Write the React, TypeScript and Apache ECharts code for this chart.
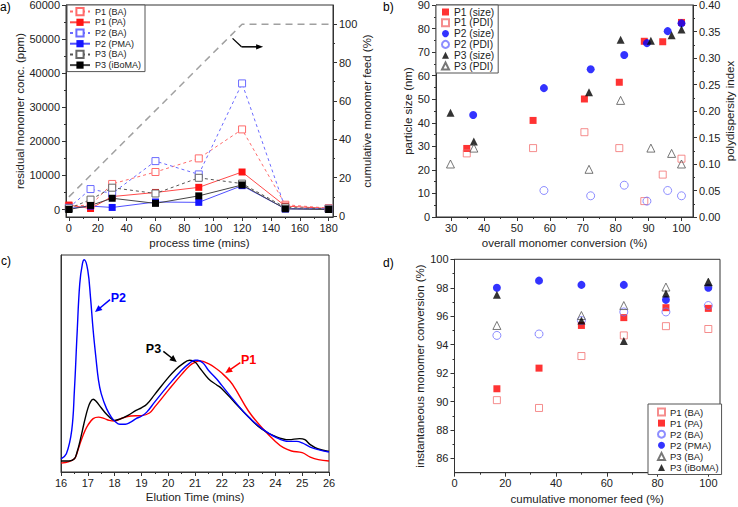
import React, { useEffect, useRef } from "react";
import * as echarts from "echarts";

const FONT = '"Liberation Sans", Arial, Helvetica, sans-serif';

// ---------- panel a ----------
const aTime = [0, 15, 30, 60, 90, 120, 150, 180];
const aP1BA = [1000, 1300, 7500, 11000, 15000, 23500, 1400, 400];
const aP1PA = [1300, 300, 3800, 5000, 6500, 11000, 1000, 300];
const aP2BA = [500, 6000, 4700, 14200, 10300, 37000, 300, 200];
const aP2PMA = [300, 1000, 600, 2200, 2100, 7000, 200, 100];
const aP3BA = [300, 2900, 6400, 4700, 9300, 7600, 600, 200];
const aP3iBoMA = [0, 1200, 3300, 1800, 4000, 7200, 200, 0];
const aFeedTime = [0, 120, 180];
const aFeedPct = [10, 100, 100];
const aXTicks = [0, 20, 40, 60, 80, 100, 120, 140, 160, 180];
const aXMinor = [10, 30, 50, 70, 90, 110, 130, 150, 170];
const aYTicks = [0, 10000, 20000, 30000, 40000, 50000, 60000];
const aYMinor = [5000, 15000, 25000, 35000, 45000, 55000];
const aY2Ticks = [0, 20, 40, 60, 80, 100];
const aY2Minor = [10, 30, 50, 70, 90];

// ---------- panel b ----------
const bP1X = [34.75, 54.9, 70.5, 81.1, 88.7, 94.3, 100];
const bP1Size = [29.1, 41, 50.1, 57.2, 74.6, 74.4, 82.6];
const bP1Pdi = [0.12, 0.13, 0.16, 0.13, 0.03, 0.08, 0.11];
const bP2X = [36.7, 58.2, 72.4, 82.6, 89.5, 95.8, 100];
const bP2Size = [43.3, 54.7, 62.7, 68.8, 73.8, 78.9, 82.2];
const bP2PdiX = [58.2, 72.4, 82.6, 89.5, 95.8, 100];
const bP2Pdi = [0.05, 0.04, 0.06, 0.03, 0.05, 0.04];
const bP3X = [29.8, 36.9, 71.9, 81.5, 90.7, 97, 100];
const bP3Size = [44.3, 32, 53, 75.2, 74.8, 77.2, 79.6];
const bP3Pdi = [0.1, 0.13, 0.09, 0.22, 0.13, 0.12, 0.1];
const bXTicks = [30, 40, 50, 60, 70, 80, 90, 100];
const bXMinor = [35, 45, 55, 65, 75, 85, 95];
const bYTicks = [0, 10, 20, 30, 40, 50, 60, 70, 80, 90];
const bYMinor = [5, 15, 25, 35, 45, 55, 65, 75, 85];
const bY2Ticks = [0, 0.05, 0.1, 0.15, 0.2, 0.25, 0.3, 0.35, 0.4];
const bY2Minor = [0.025, 0.075, 0.125, 0.175, 0.225, 0.275, 0.325, 0.375];

// ---------- panel c ----------
const cP2Time = [16.0, 16.2, 16.4, 16.5, 16.6, 16.7, 16.8, 16.87, 17.0, 17.1, 17.2, 17.3, 17.4, 17.5, 17.7, 17.9, 18.0, 18.2, 18.4, 18.6, 18.8, 19.0, 19.2, 19.5, 20.0, 20.5, 20.8, 21.0, 21.1, 21.3, 21.5, 21.8, 22.0, 22.5, 23.0, 23.5, 24.0, 24.5, 24.8, 25.0, 25.3, 25.6, 26.0];
const cP2Signal = [6.1, 8.4, 19.2, 37.6, 63.7, 86.8, 96.0, 97.8, 92.9, 80.6, 65.3, 53.0, 42.2, 36.1, 29.2, 24.9, 23.5, 22.0, 22.0, 23.0, 24.6, 25.7, 27.6, 32.3, 39.9, 46.9, 50.2, 51.5, 51.5, 50.2, 46.9, 43.0, 39.9, 32.3, 25.3, 20.0, 16.1, 14.1, 14.1, 13.4, 11.5, 10.3, 9.2];
const cP3Time = [16.0, 16.3, 16.5, 16.6, 16.7, 16.8, 16.9, 17.0, 17.1, 17.2, 17.3, 17.5, 17.7, 17.9, 18.0, 18.2, 18.5, 18.8, 19.0, 19.2, 19.5, 20.0, 20.3, 20.5, 20.8, 21.0, 21.2, 21.5, 21.8, 22.0, 22.5, 23.0, 23.5, 24.0, 24.5, 24.9, 25.1, 25.3, 25.6, 26.0];
const cP3Signal = [5.1, 5.1, 6.1, 9.2, 13.8, 19.2, 24.6, 29.2, 32.3, 33.5, 32.7, 29.6, 26.6, 24.3, 23.8, 24.4, 26.1, 28.4, 29.6, 31.2, 35.8, 43.5, 47.5, 49.5, 51.5, 50.7, 47.6, 43.0, 40.2, 38.4, 31.8, 25.3, 19.7, 16.4, 14.9, 15.4, 14.9, 12.6, 10.6, 9.5];
const cP1Time = [16.0, 16.3, 16.5, 16.6, 16.7, 16.8, 16.9, 17.0, 17.2, 17.4, 17.6, 17.8, 18.0, 18.3, 18.6, 19.0, 19.3, 19.5, 20.0, 20.5, 20.8, 21.0, 21.2, 21.5, 21.8, 22.0, 22.3, 22.5, 23.0, 23.5, 24.0, 24.3, 24.6, 25.0, 25.3, 25.6, 26.0];
const cP1Signal = [4.1, 4.8, 6.1, 8.8, 12.7, 16.1, 19.2, 21.5, 24.6, 25.3, 24.7, 23.8, 23.5, 24.9, 25.8, 26.0, 27.2, 30.0, 37.6, 45.0, 49.0, 50.5, 51.2, 49.9, 47.6, 45.6, 41.9, 38.4, 28.0, 20.4, 14.1, 11.2, 9.7, 8.9, 6.9, 5.7, 5.1];
const cXTicks = [16, 17, 18, 19, 20, 21, 22, 23, 24, 25, 26];
const cXMinor = [16.5, 17.5, 18.5, 19.5, 20.5, 21.5, 22.5, 23.5, 24.5, 25.5];

// ---------- panel d ----------
const dFeed = [16.7, 33.3, 50, 66.7, 83.3, 100];
const dP1BA = [90.1, 89.55, 93.2, 94.65, 95.3, 95.1];
const dP1PA = [90.9, 92.35, 95.35, 95.9, 96.6, 96.55];
const dP2BA = [94.65, 94.75, 95.7, 96.3, 96.3, 96.75];
const dP2PMA = [98.0, 98.5, 98.2, 98.2, 97.15, 98.0];
const dP3BA = [95.35, null, 96.05, 96.75, 98.05, 98.4];
const dP3iBoMA = [97.5, null, 95.7, 94.25, 97.6, 98.4];
const dXTicks = [0, 20, 40, 60, 80, 100];
const dXMinor = [10, 30, 50, 70, 90];
const dYTicks = [86, 88, 90, 92, 94, 96, 98, 100];
const dYMinor = [87, 89, 91, 93, 95, 97, 99];

const AXC = "#333";
const TXT = "#222";

function mainAxis(grid: number, position: string, min: number, max: number, ticks: number[], extra: any = {}) {
  return {
    type: "value",
    gridIndex: grid,
    position,
    min,
    max,
    axisLine: { show: true, onZero: false, lineStyle: { color: AXC, width: 1 } },
    axisTick: { show: true, customValues: ticks, length: 4, lineStyle: { color: AXC, width: 1 } },
    axisLabel: { show: true, customValues: ticks, fontSize: 11, color: TXT, fontFamily: FONT, margin: 6, formatter: (v: number) => String(v) },
    splitLine: { show: false },
    nameLocation: "middle",
    nameTextStyle: { fontSize: 11.5, color: TXT, fontFamily: FONT },
    ...extra,
  };
}
function minorAxis(grid: number, position: string, min: number, max: number, ticks: number[]) {
  return {
    type: "value",
    gridIndex: grid,
    position,
    min,
    max,
    axisLine: { show: false, onZero: false },
    axisTick: { show: true, customValues: ticks, length: 2, lineStyle: { color: AXC, width: 1 } },
    axisLabel: { show: false },
    splitLine: { show: false },
  };
}
function xLabel(ticks: number[]) {
  return { customValues: ticks, fontSize: 11, color: TXT, fontFamily: FONT, margin: 5, formatter: (v: number) => String(v) };
}

function pairs(xs: number[], ys: (number | null)[]) {
  const out: any[] = [];
  xs.forEach((x, i) => {
    if (ys[i] !== null && ys[i] !== undefined) out.push([x, ys[i]]);
  });
  return out;
}

function lineSeriesA(name: string, ys: number[], color: string, lineColor: string, open: boolean) {
  return {
    type: "line",
    name,
    xAxisIndex: 0,
    yAxisIndex: 0,
    data: pairs(aTime, ys),
    symbol: "rect",
    symbolSize: 7,
    showAllSymbol: true,
    itemStyle: open ? { color: "#fff", borderColor: color, borderWidth: 1 } : { color, borderColor: color, borderWidth: 0 },
    lineStyle: { color: lineColor, width: 1, type: open ? [3, 3] : "solid" },
    emphasis: { disabled: true },
  };
}

function scatter(name: string, xi: number, yi: number, data: any[], symbol: string, color: string, open: boolean, size = 7) {
  return {
    type: "scatter",
    name,
    xAxisIndex: xi,
    yAxisIndex: yi,
    data,
    symbol,
    symbolSize: size,
    itemStyle: open ? { color: "rgba(255,255,255,0)", borderColor: color, borderWidth: 1 } : { color, borderWidth: 0 },
    emphasis: { disabled: true },
  };
}

function arrow(p1: number[], p2: number[], color: string, head = 7, half = 3.2) {
  const dx = p2[0] - p1[0];
  const dy = p2[1] - p1[1];
  const len = Math.hypot(dx, dy);
  const ux = dx / len;
  const uy = dy / len;
  const bx = p2[0] - ux * head;
  const by = p2[1] - uy * head;
  return [
    { type: "line", silent: true, shape: { x1: p1[0], y1: p1[1], x2: bx + ux, y2: by + uy }, style: { stroke: color, lineWidth: 1.5 } },
    {
      type: "polygon",
      silent: true,
      shape: { points: [[p2[0], p2[1]], [bx - uy * half, by + ux * half], [bx + uy * half, by - ux * half]] },
      style: { fill: color },
    },
  ];
}

export default function App() {
  const ref = useRef<HTMLDivElement>(null);
  useEffect(() => {
    if (!ref.current) return;
    const chart = echarts.init(ref.current, null, { renderer: "svg" });

    const gridBase = { show: true, borderColor: AXC, borderWidth: 1, backgroundColor: "transparent", containLabel: false, outerBoundsMode: "none" };
    const legendText = { fontSize: 9.5, color: TXT, fontFamily: FONT };

    const option: any = {
      animation: false,
      backgroundColor: "#fff",
      textStyle: { fontFamily: FONT },
      grid: [
        { ...gridBase, left: 66, top: 5, width: 267, height: 212 },
        { ...gridBase, left: 436, top: 5, width: 257, height: 212 },
        { ...gridBase, left: 61, top: 255, width: 268, height: 217 },
        { ...gridBase, left: 454.5, top: 259.3, width: 265.5, height: 213.4 },
      ],
      xAxis: [
        mainAxis(0, "bottom", -2, 183, aXTicks, { name: "process time (mins)", nameGap: 20, axisLabel: xLabel(aXTicks) }),
        minorAxis(0, "bottom", -2, 183, aXMinor),
        mainAxis(1, "bottom", 25.4, 103.5, bXTicks, { name: "overall monomer conversion (%)", nameGap: 20, axisLabel: xLabel(bXTicks) }),
        minorAxis(1, "bottom", 25.4, 103.5, bXMinor),
        mainAxis(2, "bottom", 16, 26, cXTicks, { name: "Elution Time (mins)", nameGap: 19, axisLabel: xLabel(cXTicks) }),
        minorAxis(2, "bottom", 16, 26, cXMinor),
        mainAxis(3, "bottom", 0, 104.6, dXTicks, { name: "cumulative monomer feed (%)", nameGap: 20, axisLabel: xLabel(dXTicks) }),
        minorAxis(3, "bottom", 0, 104.6, dXMinor),
      ],
      yAxis: [
        mainAxis(0, "left", -2200, 60000, aYTicks, { name: "residual monomer conc. (ppm)", nameGap: 31, nameRotate: 90 }),
        minorAxis(0, "left", -2200, 60000, aYMinor),
        mainAxis(0, "right", -0.5, 110, aY2Ticks, { name: "cumulative monomer feed (%)", nameGap: 23, nameRotate: 90 }),
        minorAxis(0, "right", -0.5, 110, aY2Minor),
        mainAxis(1, "left", 0, 90, bYTicks, { name: "particle size (nm)", nameGap: 19, nameRotate: 90 }),
        minorAxis(1, "left", 0, 90, bYMinor),
        mainAxis(1, "right", 0, 0.4, bY2Ticks, {
          name: "polydispersity index",
          nameGap: 31,
          nameRotate: 90,
          axisLabel: { customValues: bY2Ticks, fontSize: 11, color: TXT, fontFamily: FONT, margin: 6, formatter: (v: number) => v.toFixed(2) },
        }),
        minorAxis(1, "right", 0, 0.4, bY2Minor),
        {
          type: "value",
          gridIndex: 2,
          position: "left",
          min: 0,
          max: 100,
          axisLine: { show: true, onZero: false, lineStyle: { color: AXC, width: 1 } },
          axisTick: { show: false },
          axisLabel: { show: false },
          splitLine: { show: false },
        },
        mainAxis(3, "left", 85, 100, dYTicks, { name: "instantaneous monomer conversion (%)", nameGap: 23, nameRotate: 90 }),
        minorAxis(3, "left", 85, 100, dYMinor),
      ],
      legend: [
        {
          orient: "vertical",
          left: 67,
          top: 5,
          itemWidth: 20,
          itemHeight: 9,
          itemGap: 1.6,
          padding: [2, 4, 2, 2],
          borderColor: "#555",
          borderWidth: 1,
          backgroundColor: "#fff",
          textStyle: { ...legendText, fontSize: 9 },
          selectedMode: false,
          data: ["P1 (BA)", "P1 (PA)", "P2 (BA)", "P2 (PMA)", "P3 (BA)", "P3 (iBoMA)"],
        },
        {
          orient: "vertical",
          left: 436,
          top: 5,
          itemWidth: 7,
          itemHeight: 7,
          itemGap: 0.8,
          padding: [2, 4, 2, 5],
          borderColor: "#555",
          borderWidth: 1,
          backgroundColor: "#fff",
          textStyle: { ...legendText, fontSize: 10.2 },
          selectedMode: false,
          data: ["P1 (size)", "P1 (PDI)", "P2 (size)", "P2 (PDI)", "P3 (size)", "P3 (PDI)"],
        },
        {
          orient: "vertical",
          left: 648,
          top: 404,
          itemWidth: 7,
          itemHeight: 7,
          itemGap: 1.1,
          padding: [3, 3, 2, 9],
          borderColor: "#555",
          borderWidth: 1,
          backgroundColor: "#fff",
          textStyle: legendText,
          selectedMode: false,
          formatter: (n: string) => n.replace(/^d:/, ""),
          data: ["d:P1 (BA)", "d:P1 (PA)", "d:P2 (BA)", "d:P2 (PMA)", "d:P3 (BA)", "d:P3 (iBoMA)"],
        },
      ],
      series: [
        // a (0-6)
        lineSeriesA("P1 (BA)", aP1BA, "#ff6b6b", "#ff6b6b", true),
        lineSeriesA("P1 (PA)", aP1PA, "#ff1414", "#ff4a4a", false),
        lineSeriesA("P2 (BA)", aP2BA, "#6b6bff", "#6b6bff", true),
        lineSeriesA("P2 (PMA)", aP2PMA, "#1414ff", "#5050ff", false),
        lineSeriesA("P3 (BA)", aP3BA, "#666666", "#555555", true),
        lineSeriesA("P3 (iBoMA)", aP3iBoMA, "#000000", "#444444", false),
        {
          type: "line",
          name: "feed",
          xAxisIndex: 0,
          yAxisIndex: 2,
          data: pairs(aFeedTime, aFeedPct),
          showSymbol: false,
          symbol: "none",
          lineStyle: { color: "#a0a0a0", width: 1.5, type: [7, 5] },
          z: 1,
          emphasis: { disabled: true },
        },
        // b (7-12)
        scatter("P1 (size)", 2, 4, pairs(bP1X, bP1Size), "rect", "#ff0000", false),
        scatter("P1 (PDI)", 2, 6, pairs(bP1X, bP1Pdi), "rect", "#f27070", true),
        scatter("P2 (size)", 2, 4, pairs(bP2X, bP2Size), "circle", "#0000ff", false, 8),
        scatter("P2 (PDI)", 2, 6, pairs(bP2PdiX, bP2Pdi), "circle", "#7070ff", true, 8),
        scatter("P3 (size)", 2, 4, pairs(bP3X, bP3Size), "triangle", "#000000", false, 8),
        scatter("P3 (PDI)", 2, 6, pairs(bP3X, bP3Pdi), "triangle", "#555555", true, 8),
        // c (13-15)
        {
          type: "line",
          name: "P1",
          xAxisIndex: 4,
          yAxisIndex: 8,
          data: pairs(cP1Time, cP1Signal),
          smooth: 0.4,
          showSymbol: false,
          symbol: "none",
          lineStyle: { color: "#ff0000", width: 1.4 },
          emphasis: { disabled: true },
        },
        {
          type: "line",
          name: "P3",
          xAxisIndex: 4,
          yAxisIndex: 8,
          data: pairs(cP3Time, cP3Signal),
          smooth: 0.4,
          showSymbol: false,
          symbol: "none",
          lineStyle: { color: "#000000", width: 1.4 },
          emphasis: { disabled: true },
        },
        {
          type: "line",
          name: "P2",
          xAxisIndex: 4,
          yAxisIndex: 8,
          data: pairs(cP2Time, cP2Signal),
          smooth: 0.4,
          showSymbol: false,
          symbol: "none",
          lineStyle: { color: "#0000ff", width: 1.4 },
          emphasis: { disabled: true },
        },
        // d (16-21)
        scatter("d:P1 (BA)", 6, 9, pairs(dFeed, dP1BA), "rect", "#f27070", true),
        scatter("d:P1 (PA)", 6, 9, pairs(dFeed, dP1PA), "rect", "#ff0000", false),
        scatter("d:P2 (BA)", 6, 9, pairs(dFeed, dP2BA), "circle", "#7070ff", true, 8),
        scatter("d:P2 (PMA)", 6, 9, pairs(dFeed, dP2PMA), "circle", "#0000ff", false, 8),
        scatter("d:P3 (BA)", 6, 9, pairs(dFeed, dP3BA), "triangle", "#555555", true, 8),
        scatter("d:P3 (iBoMA)", 6, 9, pairs(dFeed, dP3iBoMA), "triangle", "#000000", false, 8),
      ],
    };

    chart.setOption(option);

    const px = (si: number, pt: number[]) => chart.convertToPixel({ seriesIndex: si } as any, pt) as unknown as number[];

    // annotation anchor points in data units
    const aArrowStart = px(6, [113.4, 92.6]);
    const aArrowMid = px(6, [119.6, 88.2]);
    const aArrowEnd = px(6, [134.6, 88.2]);
    const p2A = px(13, [17.83, 79.4]);
    const p2B = px(13, [17.27, 73.7]);
    const p2T = px(13, [18.14, 80.2]);
    const p3A = px(13, [19.82, 55.6]);
    const p3B = px(13, [20.32, 50.7]);
    const p3T = px(13, [19.45, 56.7]);
    const p1A = px(13, [22.69, 50.4]);
    const p1B = px(13, [22.13, 45.6]);
    const p1T = px(13, [23.0, 51.5]);

    const label = (text: string, x: number, y: number) => ({
      type: "text",
      silent: true,
      x,
      y,
      style: { text, fontSize: 12, fontFamily: FONT, fill: "#000", textAlign: "left", textVerticalAlign: "top" },
    });
    const ann = (text: string, p: number[], color: string) => ({
      type: "text",
      silent: true,
      x: p[0],
      y: p[1],
      style: { text, fontSize: 12.5, fontWeight: "bold", fontFamily: FONT, fill: color, textAlign: "center", textVerticalAlign: "middle" },
    });

    const graphic: any[] = [
      label("a)", 0, 1),
      label("b)", 383, 1),
      label("c)", 1, 255),
      label("d)", 383, 257),
      {
        type: "line",
        silent: true,
        shape: { x1: aArrowStart[0], y1: aArrowStart[1], x2: aArrowMid[0], y2: aArrowMid[1] },
        style: { stroke: "#000", lineWidth: 1.3 },
      },
      ...arrow(aArrowMid, aArrowEnd, "#000", 7, 2.6),
      ...arrow(p2A, p2B, "#0000ff"),
      ...arrow(p3A, p3B, "#000000"),
      ...arrow(p1A, p1B, "#ff0000"),
      ann("P2", p2T, "#0000ff"),
      ann("P3", p3T, "#000000"),
      ann("P1", p1T, "#ff0000"),
    ];
    chart.setOption({ graphic });

    return () => chart.dispose();
  }, []);

  return <div ref={ref} style={{ position: "fixed", left: 0, top: 0, width: 738, height: 507 }} />;
}
